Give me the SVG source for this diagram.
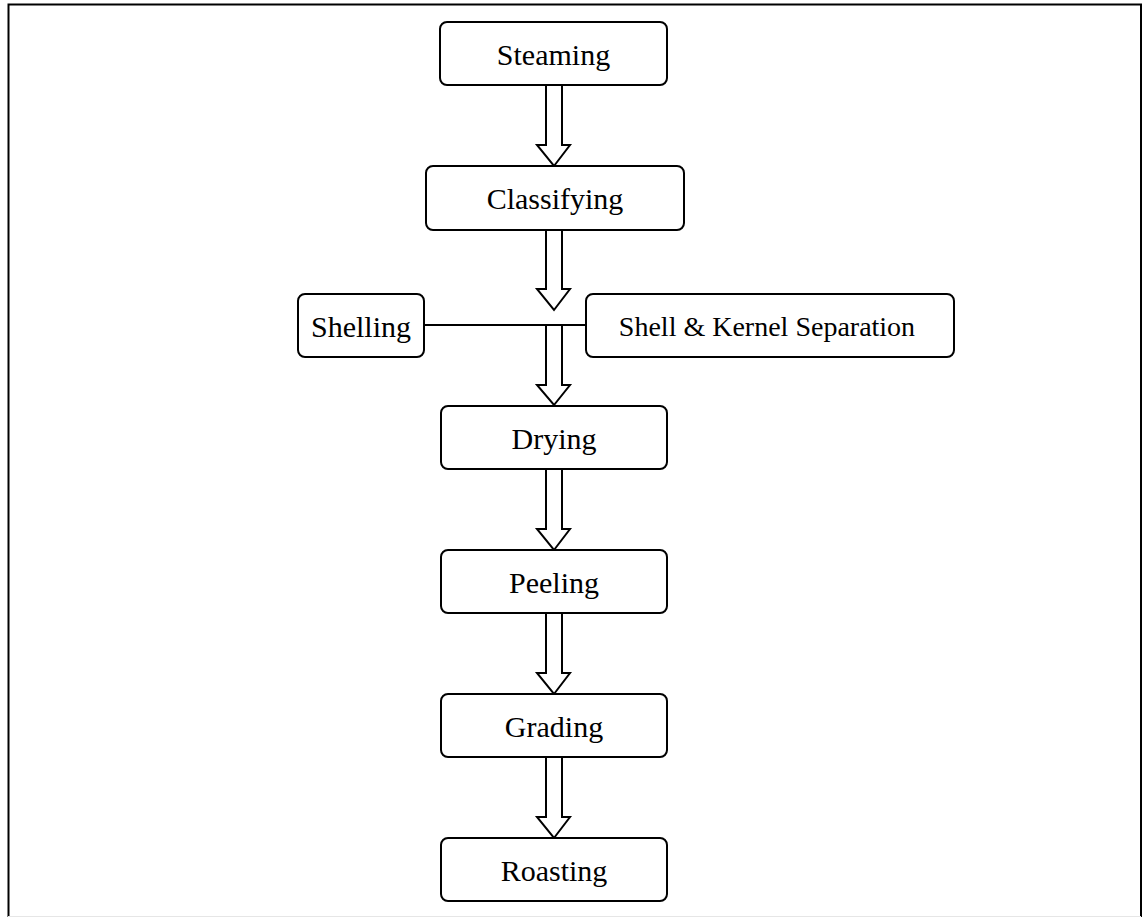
<svg xmlns="http://www.w3.org/2000/svg" width="1144" height="918" viewBox="0 0 1144 918">
<style>
.box{fill:#fff;stroke:#000;stroke-width:2}
.lbl{font-family:"Liberation Serif","Times New Roman",serif;font-size:30px;fill:#000;text-anchor:middle}
.sm{font-size:28px}
.arr{fill:#fff;stroke:#000;stroke-width:2;stroke-linejoin:miter}
.ln{stroke:#000;stroke-width:2;fill:none}
</style>
<rect x="0" y="0" width="1144" height="918" fill="#fff"/>
<path d="M8.5 917 V4.5 H1141 V917" fill="none" stroke="#000" stroke-width="2"/>
<line x1="8" y1="916.5" x2="1141" y2="916.5" stroke="#e6e6e6" stroke-width="1"/>
<g id="connectors">
<polygon class="arr" points="546,85 562,85 562,145 570,145 554,166 537,145 546,145"/>
<polygon class="arr" points="546,230 562,230 562,289 570,289 554,310 537,289 546,289"/>
<line class="ln" x1="424" y1="325" x2="586" y2="325"/>
<polygon class="arr" points="546,325 562,325 562,385 570,385 554,405 537,385 546,385"/>
<polygon class="arr" points="546,469 562,469 562,529 570,529 554,550 537,529 546,529"/>
<polygon class="arr" points="546,613 562,613 562,673 570,673 554,694 537,673 546,673"/>
<polygon class="arr" points="546,757 562,757 562,817 570,817 554,838 537,817 546,817"/>
</g>
<g id="steaming"><rect class="box" x="440" y="22" width="227" height="63" rx="7"/><text class="lbl" x="553.5" y="65">Steaming</text></g>
<g id="classifying"><rect class="box" x="426" y="166" width="258" height="64" rx="7"/><text class="lbl" x="555" y="209">Classifying</text></g>
<g id="shelling"><rect class="box" x="298" y="294" width="126" height="63" rx="7"/><text class="lbl" x="361" y="337">Shelling</text></g>
<g id="separation"><rect class="box" x="586" y="294" width="368" height="63" rx="7"/><text class="lbl sm" x="767" y="336">Shell &amp; Kernel Separation</text></g>
<g id="drying"><rect class="box" x="441" y="406" width="226" height="63" rx="7"/><text class="lbl" x="554" y="449">Drying</text></g>
<g id="peeling"><rect class="box" x="441" y="550" width="226" height="63" rx="7"/><text class="lbl" x="554" y="593">Peeling</text></g>
<g id="grading"><rect class="box" x="441" y="694" width="226" height="63" rx="7"/><text class="lbl" x="554" y="737">Grading</text></g>
<g id="roasting"><rect class="box" x="441" y="838" width="226" height="63" rx="7"/><text class="lbl" x="554" y="881">Roasting</text></g>
</svg>
